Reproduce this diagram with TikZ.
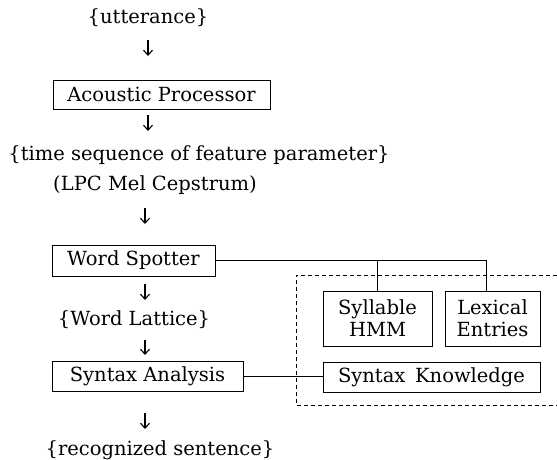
\documentclass[tikz,border=0pt]{standalone}
\usepackage{fontspec}
\setmainfont{DejaVu Serif}
\usetikzlibrary{arrows.meta}
\begin{document}
\begin{tikzpicture}[x=1pt,y=-1pt,
  txt/.style={inner sep=0pt, font=\fontsize{19.5}{22}\selectfont},
  box/.style={draw, line width=0.9pt, inner sep=0pt, font=\fontsize{19.5}{22}\selectfont, align=center},
  dn/.style={-{Straight Barb[length=5pt,width=9pt,line width=1.1pt]}, line width=1.1pt},
  conn/.style={line width=0.8pt}]
\useasboundingbox (0,0) rectangle (557,459);
% main column
\node[txt] (utt) at (148,18) {\{utterance\}};
\node[box, minimum width=217pt, minimum height=29pt] (ap) at (161.5,94.5) {Acoustic Processor};
\node[txt] (tsf) at (199,155) {\{time sequence of feature parameter\}};
\node[txt] (lpc) at (155,185) {(LPC Mel Cepstrum)};
\node[box, minimum width=163pt, minimum height=31pt] (ws) at (133.5,260.5) {Word Spotter};
\node[txt] (wl) at (134,320) {\{Word Lattice\}};
\node[box, minimum width=191pt, minimum height=30pt] (sa) at (147.5,376) {Syntax Analysis};
\node[txt] (rs) at (160,450) {\{recognized sentence\}};
% knowledge sources
\node[box, minimum width=109pt, minimum height=55pt] (hmm) at (377.5,318.5) {Syllable\\HMM};
\node[box, minimum width=95pt, minimum height=55pt] (lex) at (492.5,318.5) {Lexical\\Entries};
\node[box, minimum width=217pt, minimum height=30pt] (sk) at (431.5,377) {Syntax\hspace{0.5em}Knowledge};
% down arrows
\coordinate (a1s) at (148,40); \coordinate (a1e) at (148,56);
\coordinate (a2s) at (148,115); \coordinate (a2e) at (148,131);
\coordinate (a3s) at (145,208); \coordinate (a3e) at (145,224);
\coordinate (a4s) at (145,284); \coordinate (a4e) at (145,300);
\coordinate (a5s) at (145,340); \coordinate (a5e) at (145,355);
\coordinate (a6s) at (145,413); \coordinate (a6e) at (145,429);
\foreach \i in {1,...,6} \draw[dn] (a\i s) -- (a\i e);
% connections
\coordinate (j1) at (hmm.north |- ws.east);
\coordinate (j2) at (486,0 |- ws.east);
\draw[conn] (ws.east) -- (j2) -- (j2 |- lex.north);
\draw[conn] (j1) -- (hmm.north);
\draw[conn] (sa.east) -- (sa.east -| sk.west);
% dashed region
\draw[line width=0.8pt, dashed, dash pattern=on 4pt off 3pt] (557,275) -- (296,275) -- (296,405) -- (557,405);
\end{tikzpicture}
\end{document}
